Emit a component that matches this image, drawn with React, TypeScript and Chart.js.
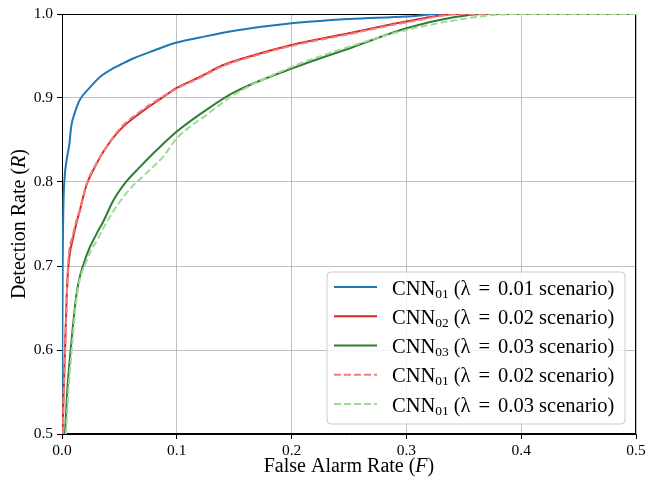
import React, { useEffect, useRef } from "react";
import { Chart, registerables } from "chart.js";

Chart.register(...registerables);

// ROC curves: False Alarm Rate (F) vs Detection Rate (R)
const cnn01_l001_F = [0, 0.0003, 0.0006, 0.0012, 0.002, 0.004, 0.0064, 0.008, 0.011, 0.0142, 0.0165, 0.024, 0.033, 0.044, 0.05, 0.062, 0.079, 0.1, 0.12, 0.15, 0.2, 0.25, 0.3, 0.33, 0.5];
const cnn01_l001_R = [0.5, 0.6, 0.7, 0.77, 0.8, 0.826, 0.845, 0.866, 0.882, 0.894, 0.9, 0.912, 0.925, 0.935, 0.939, 0.947, 0.956, 0.966, 0.972, 0.98, 0.989, 0.994, 0.997, 1.0, 1.0];

const cnn02_l002_F = [0.0005, 0.001, 0.0026, 0.004, 0.0055, 0.0099, 0.0157, 0.0215, 0.0287, 0.036, 0.0505, 0.068, 0.088, 0.1, 0.12, 0.14, 0.17, 0.2, 0.25, 0.3, 0.344, 0.5];
const cnn02_l002_R = [0.5, 0.53, 0.6, 0.66, 0.699, 0.735, 0.767, 0.797, 0.818, 0.836, 0.862, 0.882, 0.901, 0.912, 0.925, 0.939, 0.952, 0.963, 0.977, 0.991, 1.0, 1.0];

const cnn03_l003_F = [0.0026, 0.0045, 0.007, 0.0128, 0.0215, 0.03, 0.036, 0.0447, 0.0563, 0.068, 0.0825, 0.1, 0.127, 0.149, 0.2, 0.25, 0.3, 0.341, 0.367, 0.5];
const cnn03_l003_R = [0.5, 0.55, 0.592, 0.668, 0.713, 0.738, 0.753, 0.778, 0.801, 0.818, 0.838, 0.86, 0.887, 0.906, 0.935, 0.959, 0.983, 0.996, 1.0, 1.0];

const cnn01_l002_F = [0.0007, 0.0012, 0.0028, 0.0042, 0.0052, 0.0095, 0.016, 0.022, 0.029, 0.037, 0.05, 0.068, 0.088, 0.1, 0.12, 0.14, 0.17, 0.2, 0.25, 0.3, 0.35, 0.5];
const cnn01_l002_R = [0.5, 0.53, 0.6, 0.662, 0.7, 0.737, 0.77, 0.8, 0.82, 0.838, 0.863, 0.884, 0.902, 0.911, 0.924, 0.938, 0.951, 0.962, 0.976, 0.99, 1.0, 1.0];

const cnn01_l003_F = [0.0035, 0.0055, 0.008, 0.013, 0.022, 0.031, 0.038, 0.047, 0.06, 0.073, 0.088, 0.1, 0.127, 0.15, 0.2, 0.25, 0.3, 0.34, 0.37, 0.395, 0.5];
const cnn01_l003_R = [0.5, 0.55, 0.592, 0.665, 0.708, 0.732, 0.75, 0.77, 0.793, 0.81, 0.83, 0.852, 0.881, 0.904, 0.937, 0.961, 0.981, 0.992, 0.998, 1.0, 1.0];

const xTicks = [0, 0.1, 0.2, 0.3, 0.4, 0.5];
const yTicks = [0.5, 0.6, 0.7, 0.8, 0.9, 1.0];

const legendItems = [
  { sub: "01", lam: "0.01", color: "#1f77b4", dash: [] as number[] },
  { sub: "02", lam: "0.02", color: "#d62728", dash: [] as number[] },
  { sub: "03", lam: "0.03", color: "#2e7d32", dash: [] as number[] },
  { sub: "01", lam: "0.02", color: "#f08080", dash: [7, 3] },
  { sub: "01", lam: "0.03", color: "#a3d99b", dash: [7, 3] },
];

const toPts = (xs: number[], ys: number[]) => xs.map((x, i) => ({ x, y: ys[i] }));

const FONT = "'Liberation Serif', 'Times New Roman', serif";

const decorPlugin = {
  id: "decor",
  beforeDatasetsDraw(chart: any) {
    const { ctx, chartArea: a } = chart;
    ctx.save();
    ctx.strokeStyle = "#000";
    ctx.lineWidth = 1;
    ctx.strokeRect(Math.round(a.left) + 0.5, Math.round(a.top) + 0.5, Math.round(a.right - a.left) - 1, Math.round(a.bottom - a.top) - 1);
    ctx.restore();
  },
  afterDraw(chart: any) {
    const { ctx, chartArea: a } = chart;
    ctx.save();
    ctx.fillStyle = "#000";
    ctx.textBaseline = "alphabetic";
    const drawMixed = (parts: { t: string; it?: boolean }[], size: number) => {
      const widths = parts.map((p) => {
        ctx.font = `${p.it ? "italic " : ""}${size}px ${FONT}`;
        return ctx.measureText(p.t).width;
      });
      const total = widths.reduce((s, w) => s + w, 0);
      let x = -total / 2;
      parts.forEach((p, i) => {
        ctx.font = `${p.it ? "italic " : ""}${size}px ${FONT}`;
        ctx.textAlign = "left";
        ctx.fillText(p.t, x, 0);
        x += widths[i];
      });
    };
    ctx.save();
    ctx.translate((a.left + a.right) / 2, 472);
    drawMixed([{ t: "False Alarm Rate (" }, { t: "F", it: true }, { t: ")" }], 20);
    ctx.restore();
    ctx.save();
    ctx.translate(25, (a.top + a.bottom) / 2);
    ctx.rotate(-Math.PI / 2);
    drawMixed([{ t: "Detection Rate (" }, { t: "R", it: true }, { t: ")" }], 20);
    ctx.restore();

    // legend
    const bx = 327, by = 272, bw = 298, bh = 152, r = 4;
    ctx.beginPath();
    ctx.moveTo(bx + r, by);
    ctx.lineTo(bx + bw - r, by);
    ctx.quadraticCurveTo(bx + bw, by, bx + bw, by + r);
    ctx.lineTo(bx + bw, by + bh - r);
    ctx.quadraticCurveTo(bx + bw, by + bh, bx + bw - r, by + bh);
    ctx.lineTo(bx + r, by + bh);
    ctx.quadraticCurveTo(bx, by + bh, bx, by + bh - r);
    ctx.lineTo(bx, by + r);
    ctx.quadraticCurveTo(bx, by, bx + r, by);
    ctx.closePath();
    ctx.fillStyle = "rgba(255,255,255,0.8)";
    ctx.fill();
    ctx.strokeStyle = "#cccccc";
    ctx.lineWidth = 1;
    ctx.stroke();

    legendItems.forEach((it, i) => {
      const y = 287 + i * 29.25;
      ctx.beginPath();
      ctx.setLineDash(it.dash);
      ctx.strokeStyle = it.color;
      ctx.lineWidth = 2;
      ctx.moveTo(334, y);
      ctx.lineTo(377, y);
      ctx.stroke();
      ctx.setLineDash([]);
      ctx.fillStyle = "#000";
      ctx.textAlign = "left";
      let x = 392;
      const base = y + 7.5;
      const big = `20.5px ${FONT}`;
      ctx.font = big;
      ctx.fillText("CNN", x, base);
      x += ctx.measureText("CNN").width;
      ctx.font = `13.5px ${FONT}`;
      ctx.fillText(it.sub, x, base + 3);
      x += ctx.measureText(it.sub).width + 5;
      ctx.font = big;
      const pieces = ["(λ", "=", `${it.lam} scenario)`];
      pieces.forEach((p, k) => {
        ctx.fillText(p, x, base);
        x += ctx.measureText(p).width + (k < 2 ? 8 : 0);
      });
    });
    ctx.restore();
  },
};

export default function App() {
  const ref = useRef<HTMLCanvasElement | null>(null);
  useEffect(() => {
    if (!ref.current) return;
    const common = { pointRadius: 0, borderWidth: 2, showLine: true, fill: false, cubicInterpolationMode: "monotone" };
    const chart = new Chart(ref.current, {
      type: "scatter",
      data: {
        datasets: [
          { ...common, label: "CNN01 (λ = 0.01 scenario)", data: toPts(cnn01_l001_F, cnn01_l001_R), borderColor: "#1f77b4", order: 5 },
          { ...common, label: "CNN02 (λ = 0.02 scenario)", data: toPts(cnn02_l002_F, cnn02_l002_R), borderColor: "#d62728", order: 4 },
          { ...common, label: "CNN03 (λ = 0.03 scenario)", data: toPts(cnn03_l003_F, cnn03_l003_R), borderColor: "#2e7d32", order: 3 },
          { ...common, label: "CNN01 (λ = 0.02 scenario)", data: toPts(cnn01_l002_F, cnn01_l002_R), borderColor: "#f08080", borderDash: [7, 3], order: 2 },
          { ...common, label: "CNN01 (λ = 0.03 scenario)", data: toPts(cnn01_l003_F, cnn01_l003_R), borderColor: "#a3d99b", borderDash: [7, 3], order: 1 },
        ] as any,
      },
      options: {
        animation: false,
        responsive: true,
        maintainAspectRatio: false,
        layout: { padding: { top: 14, right: 11, left: 0, bottom: 0 } },
        plugins: { legend: { display: false }, tooltip: { enabled: false } },
        scales: {
          x: {
            type: "linear",
            min: 0,
            max: 0.5,
            afterFit: (s: any) => { s.height = 44; s.paddingLeft = 0; s.paddingRight = 0; },
            afterBuildTicks: (s: any) => { s.ticks = xTicks.map((v) => ({ value: v })); },
            ticks: { color: "#000", font: { family: FONT, size: 15.5 }, padding: 3, maxRotation: 0, callback: (v: any) => Number(v).toFixed(1) },
            grid: { color: "#b0b0b0", lineWidth: 0.8, tickColor: "#000", tickLength: 5, tickWidth: 1 },
            border: { color: "#000", width: 1 },
          },
          y: {
            type: "linear",
            min: 0.5,
            max: 1.0,
            afterFit: (s: any) => { s.width = 62; s.paddingTop = 0; s.paddingBottom = 0; },
            afterBuildTicks: (s: any) => { s.ticks = yTicks.map((v) => ({ value: v })); },
            ticks: { color: "#000", font: { family: FONT, size: 15.5 }, padding: 4, callback: (v: any) => Number(v).toFixed(1) },
            grid: { color: "#b0b0b0", lineWidth: 0.8, tickColor: "#000", tickLength: 5, tickWidth: 1 },
            border: { color: "#000", width: 1 },
          },
        },
      },
      plugins: [decorPlugin],
    });
    return () => chart.destroy();
  }, []);
  return (
    <div style={{ position: "absolute", left: 0, top: 0, width: 647, height: 478, background: "#fff" }}>
      <canvas ref={ref} />
    </div>
  );
}
